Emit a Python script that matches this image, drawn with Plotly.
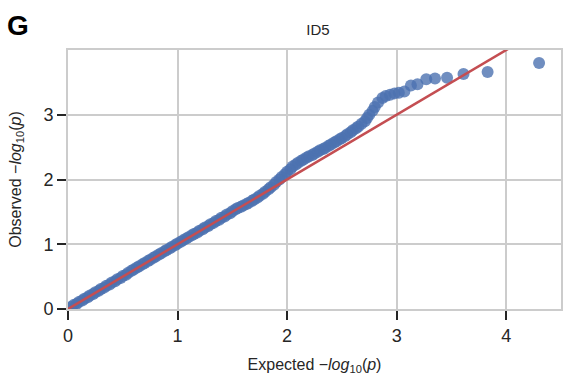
import plotly.graph_objects as go

# Q-Q plot of association p-values for ID5
# bulk of the distribution (expected vs observed -log10 p)
bulk_expected = [
    0.00, 0.03, 0.05, 0.08, 0.10, 0.13, 0.15, 0.18, 0.20, 0.23,
    0.25, 0.28, 0.30, 0.33, 0.35, 0.38, 0.40, 0.43, 0.45, 0.48,
    0.50, 0.53, 0.55, 0.58, 0.60, 0.63, 0.65, 0.68, 0.70, 0.73,
    0.75, 0.78, 0.80, 0.83, 0.85, 0.88, 0.90, 0.93, 0.95, 0.98,
    1.00, 1.03, 1.05, 1.08, 1.10, 1.13, 1.15, 1.18, 1.20, 1.23,
    1.25, 1.28, 1.30, 1.33, 1.35, 1.38, 1.40, 1.43, 1.45, 1.48,
    1.50, 1.53, 1.55, 1.58, 1.60, 1.63, 1.65, 1.68, 1.70, 1.73,
    1.75, 1.78, 1.80, 1.83, 1.85, 1.88, 1.90, 1.93, 1.95, 1.98,
    2.00, 2.03, 2.05, 2.08, 2.10, 2.13, 2.15, 2.18, 2.20, 2.23,
    2.25, 2.28, 2.30, 2.33, 2.35, 2.38, 2.40, 2.43, 2.45, 2.48,
    2.50, 2.53, 2.55, 2.58, 2.60, 2.63, 2.65, 2.68,
]
bulk_observed = [
    0.00, 0.03, 0.06, 0.08, 0.11, 0.13, 0.16, 0.18, 0.21, 0.23,
    0.26, 0.28, 0.31, 0.33, 0.36, 0.38, 0.41, 0.43, 0.46, 0.48,
    0.51, 0.53, 0.56, 0.59, 0.61, 0.64, 0.66, 0.69, 0.71, 0.74,
    0.76, 0.79, 0.81, 0.84, 0.86, 0.89, 0.91, 0.94, 0.96, 0.99,
    1.01, 1.04, 1.06, 1.09, 1.11, 1.14, 1.16, 1.18, 1.21, 1.23,
    1.26, 1.28, 1.31, 1.33, 1.36, 1.38, 1.41, 1.43, 1.46, 1.48,
    1.51, 1.54, 1.56, 1.58, 1.60, 1.62, 1.64, 1.67, 1.69, 1.72,
    1.75, 1.78, 1.81, 1.85, 1.88, 1.92, 1.96, 2.00, 2.04, 2.08,
    2.12, 2.16, 2.20, 2.23, 2.26, 2.29, 2.31, 2.34, 2.36, 2.38,
    2.40, 2.43, 2.45, 2.47, 2.49, 2.52, 2.54, 2.57, 2.59, 2.62,
    2.64, 2.67, 2.70, 2.73, 2.76, 2.79, 2.82, 2.86,
]
# the twenty smallest p-values
tail_expected = [
    2.71, 2.73, 2.75, 2.78, 2.80, 2.83, 2.87, 2.90, 2.94, 2.98,
    3.02, 3.07, 3.13, 3.19, 3.27, 3.35, 3.46, 3.61, 3.83, 4.30,
]
tail_observed = [
    2.90, 2.95, 3.00, 3.06, 3.12, 3.19, 3.26, 3.29, 3.31, 3.33,
    3.34, 3.36, 3.45, 3.47, 3.55, 3.56, 3.57, 3.63, 3.66, 3.80,
]
# null expectation y = x
null_line = [0, 4.5]

x_ticks = [0, 1, 2, 3, 4]
y_ticks = [0, 1, 2, 3]

FONT = "Liberation Sans, Arial, sans-serif"
BLUE = "#4c72b0"
RED = "#c44e52"
GRID = "#cccccc"
INK = "#262626"

fig = go.Figure()
fig.add_trace(go.Scatter(
    x=bulk_expected + tail_expected,
    y=bulk_observed + tail_observed,
    mode="markers",
    marker=dict(size=12, color=BLUE, opacity=0.8, line=dict(width=0)),
    showlegend=False,
))
fig.add_trace(go.Scatter(
    x=null_line, y=null_line, mode="lines",
    line=dict(color=RED, width=2.5), showlegend=False,
))

L, R, T, B = 68, 0, 50, 70
W, H = 563, 379
pw, ph = W - L - R, H - T - B

fig.update_layout(
    width=W, height=H,
    margin=dict(l=L, r=R, t=T, b=B, pad=0),
    paper_bgcolor="white", plot_bgcolor="white",
    font=dict(family=FONT, color=INK),
    title=dict(text="ID5", x=318 / W, xanchor="center",
               y=1 - 30 / H, yanchor="middle",
               font=dict(size=15, color=INK)),
)
fig.update_xaxes(
    range=[0, 4.5], tickvals=x_ticks, ticktext=[str(v) for v in x_ticks],
    showgrid=True, gridcolor=GRID, gridwidth=2,
    showline=True, linecolor=GRID, linewidth=2, mirror=True,
    ticks="outside", ticklen=9, tickwidth=2, tickcolor=INK,
    tickfont=dict(size=18, color=INK), zeroline=False,
    title=dict(text="Expected \u2212<i>log</i><sub>10</sub>(<i>p</i>)",
               font=dict(size=16, color=INK), standoff=14),
)
fig.update_yaxes(
    range=[0, 4.0], tickvals=y_ticks, ticktext=[str(v) for v in y_ticks],
    showgrid=True, gridcolor=GRID, gridwidth=2,
    showline=True, linecolor=GRID, linewidth=2, mirror=True,
    ticks="outside", ticklen=9, tickwidth=2, tickcolor=INK,
    tickfont=dict(size=18, color=INK), zeroline=False,
    title=dict(text="Observed \u2212<i>log</i><sub>10</sub>(<i>p</i>)",
               font=dict(size=16, color=INK), standoff=18),
)
fig.add_annotation(
    text="<b>G</b>", xref="paper", yref="paper",
    x=(5 - L) / pw, y=(H - B - 8) / ph, xanchor="left", yanchor="top",
    showarrow=False, font=dict(size=28, color="black", family=FONT),
)

fig.write_html("out.html")
